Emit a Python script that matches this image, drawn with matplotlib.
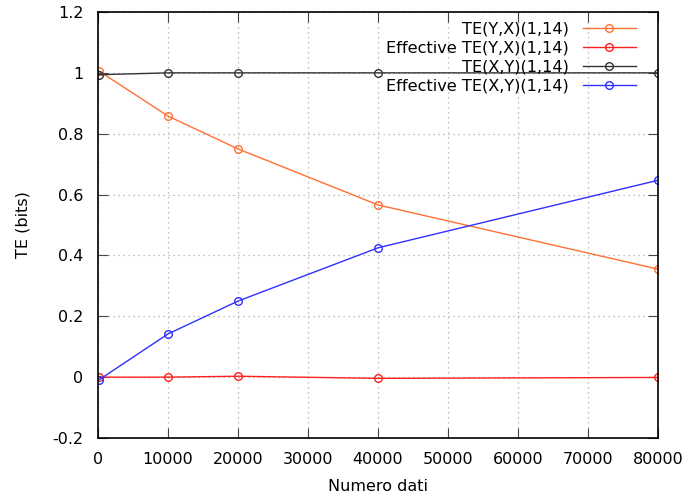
import numpy as np
import matplotlib
matplotlib.use('Agg')
import matplotlib.pyplot as plt
from matplotlib.ticker import FuncFormatter

# data
n_dati = [200, 10000, 20000, 40000, 80000]
te_yx = [1.005, 0.858, 0.750, 0.566, 0.355]
eff_te_yx = [0.0, 0.0, 0.003, -0.004, -0.001]
te_xy = [0.994, 1.0, 1.0, 1.0, 1.0]
eff_te_xy = [-0.008, 0.142, 0.250, 0.425, 0.647]

labels = ['TE(Y,X)(1,14)', 'Effective TE(Y,X)(1,14)',
          'TE(X,Y)(1,14)', 'Effective TE(X,Y)(1,14)']
colors = ['#ff7033', '#ff2020', '#333333', '#3030ff']
series = [te_yx, eff_te_yx, te_xy, eff_te_xy]

fig = plt.figure(figsize=(6.87, 5), dpi=100)
ax = fig.add_axes([98/687, 1-438/500, 560/687, 426/500])

for s, c, lab in zip(series, colors, labels):
    ax.plot(n_dati, s, color=c, lw=1, marker='o', ms=5.5,
            mfc='none', mec=c, mew=1, label=lab)

ax.set_xlim(0, 80000)
ax.set_ylim(-0.2, 1.2)
ax.set_xticks(np.arange(0, 80001, 10000))
ax.set_yticks(np.arange(-0.2, 1.21, 0.2))
ax.yaxis.set_major_formatter(FuncFormatter(lambda v, p: '%g' % round(v, 2)))
ax.grid(True, color='#aaaaaa', ls=(0, (1, 3)), lw=0.9)
ax.tick_params(direction='in', top=True, right=True, length=7,
               labelsize=11.5, color='#444444')
ax.tick_params(axis='x', pad=10)
ax.tick_params(axis='y', pad=10.5)
for sp in ax.spines.values():
    sp.set_linewidth(1.2)

ax.set_xlabel('Numero dati', fontsize=11.5, labelpad=9)
ax.set_ylabel('TE (bits)', fontsize=11.5, labelpad=16)

leg = ax.legend(loc='upper right', bbox_to_anchor=(0.981, 1.004),
                frameon=False, markerfirst=False, fontsize=11.6,
                handlelength=3.3, labelspacing=0.245, handletextpad=0.9,
                borderpad=0.2)

plt.savefig('out.png', dpi=100)
